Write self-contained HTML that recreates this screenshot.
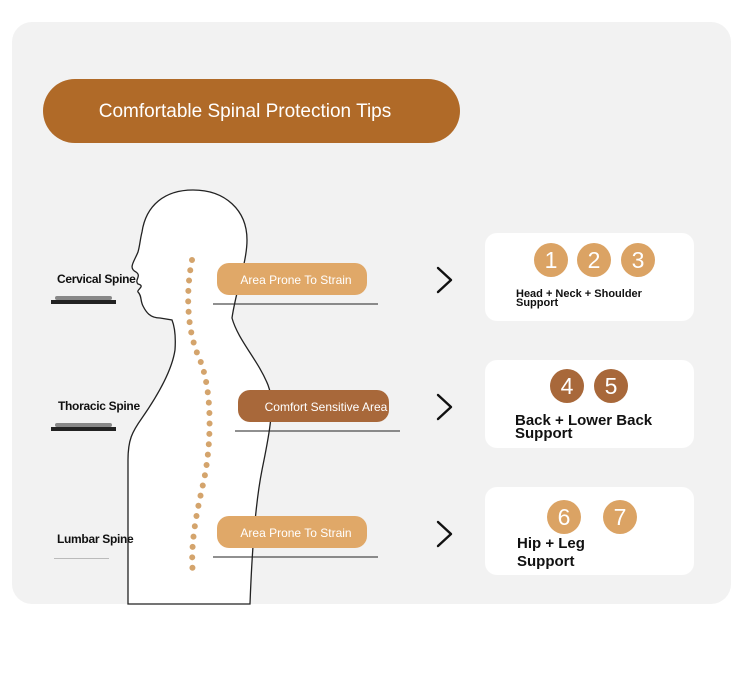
<!DOCTYPE html>
<html><head><meta charset="utf-8"><style>
html,body{margin:0;padding:0;background:#fff;}
svg{display:block;font-family:"Liberation Sans",sans-serif;}
</style></head><body>
<svg width="750" height="673" viewBox="0 0 750 673" xmlns="http://www.w3.org/2000/svg">
<rect x="12" y="22" width="719" height="582" rx="20" fill="#f2f2f2"/>
<rect x="43" y="79" width="417" height="64" rx="32" fill="#b06a28"/>
<text x="245" y="117" font-size="19" fill="#fff" text-anchor="middle">Comfortable Spinal Protection Tips</text>

<!-- body -->
<path d="M128,604 L128,460 C128,440 132,432 142,418 C158,395 172,370 175,350 C176,335 174,325 172,320 L160,318 C150,318 146,312 143,306 C140,300 142,296 138,292 C136,290 146,286 138,284 C134,280 142,276 136,272 C128,268 134,262 138,252 C140,245 140,240 142,232 C146,205 165,190 193,190 C225,190 247,210 247,240 C247,262 236,290 232,318 C238,340 258,360 268,385 C276,405 268,440 262,470 C256,500 252,550 250,604 L128,604 Z" fill="#fff" stroke="#222" stroke-width="1.3"/>
<path d="M192,260 C186,290 186,330 200,360 C212,390 212,440 204,480 C196,515 190,545 193,575" fill="none" stroke="#d4a46c" stroke-width="6" stroke-linecap="round" stroke-dasharray="0 10.4"/>

<!-- left labels -->
<g font-size="12" fill="#111" font-weight="bold" style="letter-spacing:-0.3px">
<text x="57" y="283">Cervical Spine</text>
<text x="58" y="410">Thoracic Spine</text>
<text x="57" y="543">Lumbar Spine</text>
</g>
<rect x="51" y="300" width="65" height="4" fill="#222"/>
<rect x="55" y="296" width="57" height="4" rx="2" fill="#888"/>
<rect x="51" y="427" width="65" height="4" fill="#222"/>
<rect x="55" y="423" width="57" height="4" rx="2" fill="#888"/>
<rect x="54" y="558" width="55" height="1" fill="#bbb"/>

<!-- pills -->
<rect x="217" y="263" width="150" height="32" rx="12" fill="#e0a868"/>
<text x="296" y="284" font-size="12" fill="#fff" text-anchor="middle">Area Prone To Strain</text>
<line x1="213" y1="304" x2="378" y2="304" stroke="#222" stroke-width="1"/>
<rect x="238" y="390" width="151" height="32" rx="12" fill="#a8683a"/>
<text x="326" y="411" font-size="12" fill="#fff" text-anchor="middle">Comfort Sensitive Area</text>
<line x1="235" y1="431" x2="400" y2="431" stroke="#222" stroke-width="1"/>
<rect x="217" y="516" width="150" height="32" rx="12" fill="#e0a868"/>
<text x="296" y="537" font-size="12" fill="#fff" text-anchor="middle">Area Prone To Strain</text>
<line x1="213" y1="557" x2="378" y2="557" stroke="#222" stroke-width="1"/>

<!-- arrows -->
<g fill="none" stroke="#111" stroke-width="2.4" stroke-linecap="round" stroke-linejoin="round">
<path d="M438,268 L451,280 L438,292"/>
<path d="M438,395 L451,407 L438,419"/>
<path d="M438,522 L451,534 L438,546"/>
</g>

<!-- cards -->
<rect x="485" y="233" width="209" height="88" rx="12" fill="#fff"/>
<rect x="485" y="360" width="209" height="88" rx="12" fill="#fff"/>
<rect x="485" y="487" width="209" height="88" rx="12" fill="#fff"/>

<g font-size="23" fill="#fff" text-anchor="middle">
<circle cx="551" cy="260" r="17" fill="#dba364"/><text x="551" y="268">1</text>
<circle cx="594" cy="260" r="17" fill="#dba364"/><text x="594" y="268">2</text>
<circle cx="638" cy="260" r="17" fill="#dba364"/><text x="638" y="268">3</text>
<circle cx="567" cy="386" r="17" fill="#a8683a"/><text x="567" y="394">4</text>
<circle cx="611" cy="386" r="17" fill="#a8683a"/><text x="611" y="394">5</text>
<circle cx="564" cy="517" r="17" fill="#dba364"/><text x="564" y="525">6</text>
<circle cx="620" cy="517" r="17" fill="#dba364"/><text x="620" y="525">7</text>
</g>

<g fill="#111" font-weight="bold">
<text x="516" y="297" font-size="11">Head + Neck + Shoulder</text>
<text x="516" y="306" font-size="11">Support</text>
<text x="515" y="425" font-size="15">Back + Lower Back</text>
<text x="515" y="438" font-size="15">Support</text>
<text x="517" y="548" font-size="15">Hip + Leg</text>
<text x="517" y="566" font-size="15">Support</text>
</g>
</svg>
</body></html>
